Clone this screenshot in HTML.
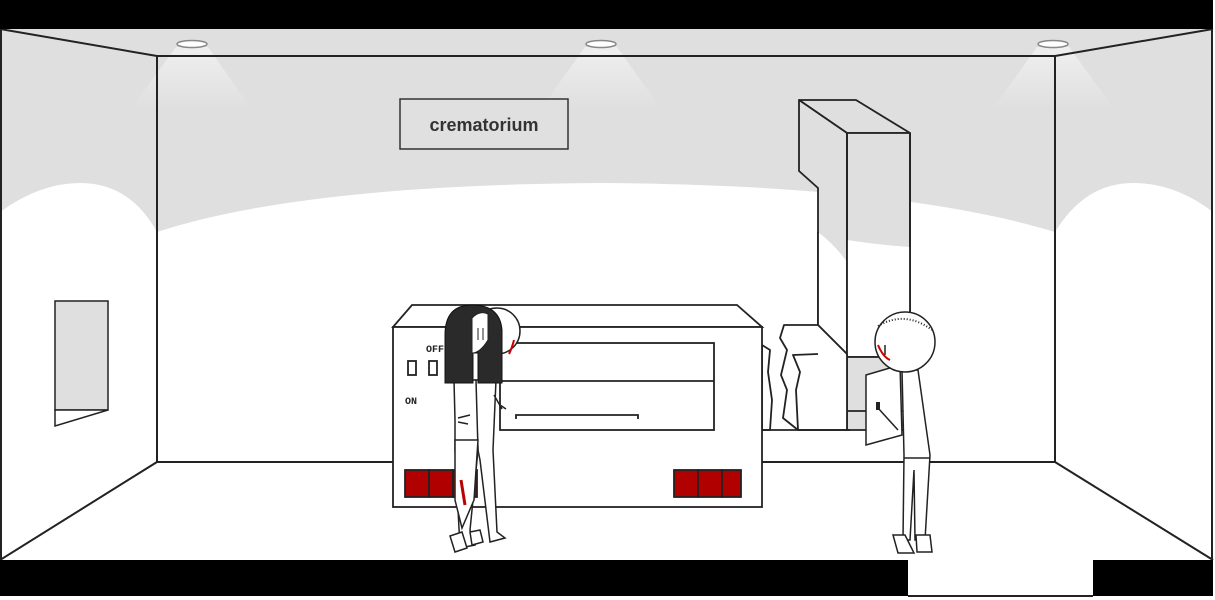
<!DOCTYPE html>
<html><head><style>html,body{margin:0;padding:0;background:#fff}svg{display:block}</style></head><body>
<svg width="1215" height="600" viewBox="0 0 1215 600" xmlns="http://www.w3.org/2000/svg">
<defs>
<linearGradient id="cone" x1="0" y1="0" x2="0" y2="1"><stop offset="0" stop-color="#fff" stop-opacity="0.5"/><stop offset="1" stop-color="#fff" stop-opacity="0"/></linearGradient>
</defs>
<rect x="0" y="0" width="1213" height="598" fill="#fff"/>
<rect x="0" y="29" width="1213" height="210" fill="#dfdfdf"/>
<path d="M0 212 Q40 183 80 183 Q130 183 157 232 L157 300 L0 300Z" fill="#fff"/>
<path d="M1055 232 Q1085 183 1133 183 Q1175 183 1213 212 L1213 300 L1055 300Z" fill="#fff"/>
<path d="M157 232 Q300 185 600 183 Q900 185 1055 232 L1055 300 L157 300Z" fill="#fff"/>
<polygon points="176,47 208,47 252,110 130,110" fill="url(#cone)"/>
<polygon points="585,47 617,47 662,110 540,110" fill="url(#cone)"/>
<polygon points="1037,47 1069,47 1115,110 992,110" fill="url(#cone)"/>
<g fill="#fff" stroke="#888" stroke-width="1.5">
<ellipse cx="192" cy="44" rx="15" ry="3.5"/><ellipse cx="601" cy="44" rx="15" ry="3.5"/><ellipse cx="1053" cy="44" rx="15" ry="3.5"/>
</g>
<g stroke="#222" stroke-width="2" fill="none">
<rect x="157" y="56" width="898" height="406"/>
<line x1="0" y1="29" x2="157" y2="56"/><line x1="1213" y1="29" x2="1055" y2="56"/>
<line x1="0" y1="560" x2="157" y2="462"/><line x1="1213" y1="560" x2="1055" y2="462"/>
<line x1="1" y1="29" x2="1" y2="560"/><line x1="1212" y1="29" x2="1212" y2="560"/>
</g>
<rect x="0" y="0" width="1213" height="29" fill="#000"/>
<rect x="0" y="560" width="908" height="36" fill="#000"/>
<rect x="1093" y="560" width="120" height="36" fill="#000"/>
<line x1="908" y1="596" x2="1093" y2="596" stroke="#222" stroke-width="2"/>
<rect x="400" y="99" width="168" height="50" fill="#e0e0e0" stroke="#333" stroke-width="1.5"/>
<text x="484" y="131" text-anchor="middle" font-family="Liberation Sans, sans-serif" font-weight="bold" font-size="18" fill="#333">crematorium</text>
<rect x="55" y="301" width="53" height="109" fill="#dfdfdf" stroke="#222" stroke-width="1.5"/>
<polygon points="55,410 108,410 55,426" fill="#fff" stroke="#222" stroke-width="1.5"/>
<g stroke="#222" stroke-width="1.8" stroke-linejoin="round">
<polygon points="799,100 856,100 910,133 847,133" fill="#dfdfdf"/>
<polygon points="799,100 847,133 847,354 818,325 818,188 799,171" fill="#dfdfdf"/>
<path d="M818,232 Q835,245 847,262 L847,354 L818,325Z" fill="#fff" stroke="none"/>
<polyline points="818,232 818,325 847,354" fill="none"/>
<polygon points="847,133 910,133 910,357 847,357" fill="#dfdfdf"/>
<path d="M847,240 Q880,245 910,247 L910,357 L847,357Z" fill="#fff" stroke="none"/>
<polyline points="847,133 847,357 910,357 910,133" fill="none"/>
<rect x="847" y="357" width="63" height="73" fill="#dfdfdf"/>
<line x1="847" y1="411" x2="910" y2="411"/>
<polygon points="784,325 818,325 847,354 847,430 798,430 783,418 787,390 781,375 787,350 780,338" fill="#fff"/>
<polyline points="798,430 796,390 800,372 793,355 818,354" fill="none"/>
<polygon points="762,345 770,350 768,372 772,400 770,430 762,430" fill="#fff"/>
</g>
<line x1="762" y1="430" x2="850" y2="430" stroke="#222" stroke-width="1.8"/>
<g stroke="#222" stroke-width="1.8" fill="#fff">
<polygon points="412,305 737,305 762,327 393,327"/>
<rect x="393" y="327" width="369" height="180"/>
<rect x="500" y="343" width="214" height="87"/>
<line x1="500" y1="381" x2="714" y2="381"/>
<polyline points="516,419 516,415 638,415 638,419" fill="none"/>
<rect x="408" y="361" width="8" height="14"/><rect x="429" y="361" width="8" height="14"/>
<g fill="#b00000"><rect x="405" y="470" width="24" height="27"/><rect x="429" y="470" width="24" height="27"/><rect x="453" y="470" width="24" height="27"/>
<rect x="674" y="470" width="24" height="27"/><rect x="698" y="470" width="24" height="27"/><rect x="722" y="470" width="19" height="27"/></g>
</g>
<text x="426" y="352" font-family="Liberation Mono, monospace" font-size="10" font-weight="bold" fill="#222">OFF</text>
<text x="405" y="404" font-family="Liberation Mono, monospace" font-size="10" font-weight="bold" fill="#222">ON</text>
<g stroke="#222" stroke-width="1.5" fill="#fff">
<circle cx="497" cy="331" r="23"/>
<polygon points="475,380 496,380 493,450 497,532 505,538 490,542 480,460 478,450"/>
<polygon points="454,380 476,380 478,450 470,530 475,545 460,548 455,450 455,420"/>
<polygon points="455,440 478,440 474,500 462,528 455,500"/>
<path d="M494,395 l8,14 M500,405 l6,4" fill="none"/>
<path d="M458,418 l12,-3 M458,422 l10,2" fill="none"/>
<polygon points="450,536 462,532 467,548 455,552"/>
<polygon points="470,532 480,530 483,542 472,545"/>
</g>
<path d="M445,335 Q445,305 472,305 Q500,305 502,330 L502,383 L478,383 L478,353 L473,353 L473,383 L445,383Z" fill="#2a2a2a" stroke="#111"/>
<path d="M472,318 Q480,310 488,314 L488,340 Q480,353 472,353Z" fill="#fff" stroke="#222"/>
<path d="M478,328v12M483,328v12" stroke="#222"/>
<path d="M514,340 q-2,8 -5,14" stroke="#c00" stroke-width="2" fill="none"/>
<path d="M461,480 l4,25" stroke="#b00" stroke-width="3"/>
<g stroke="#222" stroke-width="1.5" fill="#fff">
<polygon points="902,370 918,370 930,455 925,540 915,540 914,470 910,540 903,540 904,455"/>
<line x1="904" y1="458" x2="930" y2="458"/>
<polygon points="866,375 900,365 902,435 866,445"/>
<line x1="878" y1="408" x2="898" y2="430"/>
<polygon points="893,535 905,535 914,553 898,553"/>
<polygon points="916,535 930,535 932,552 917,552"/>
<circle cx="905" cy="342" r="30"/>
</g>
<path d="M878,326 Q905,310 932,330" stroke="#222" stroke-width="2" stroke-dasharray="1,2" fill="none"/>
<path d="M885,345 v10" stroke="#222" stroke-width="1.5"/>
<path d="M878,345 q5,12 12,15" stroke="#c00" stroke-width="2" fill="none"/>
<rect x="876" y="402" width="4" height="8" fill="#222"/>
</svg>
</body></html>
